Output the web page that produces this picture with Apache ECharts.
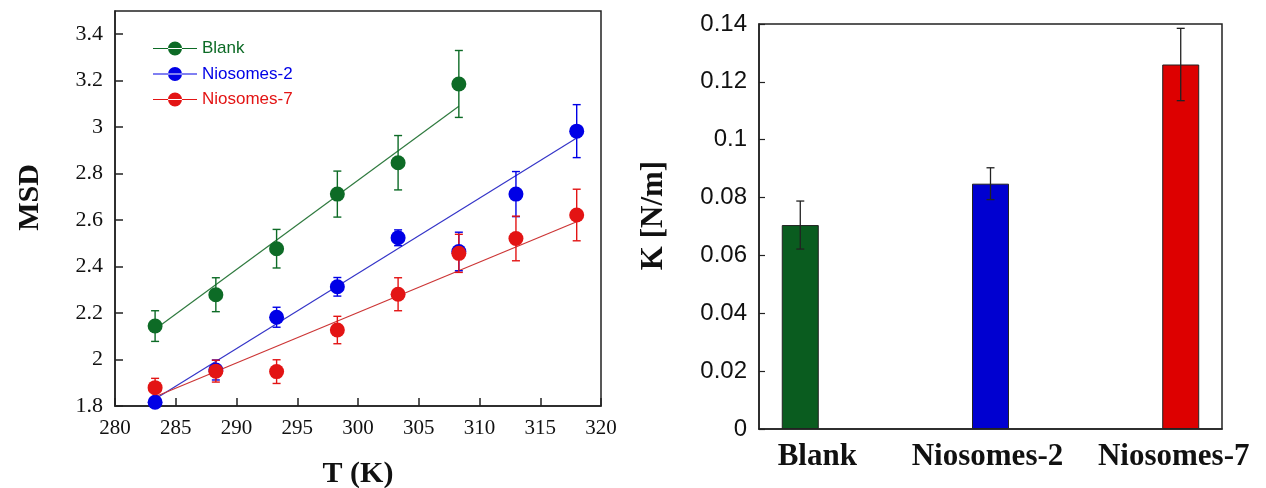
<!DOCTYPE html>
<html>
<head>
<meta charset="utf-8">
<script src="https://cdn.jsdelivr.net/npm/echarts@6/dist/echarts.min.js"></script>
<style>
  html, body { margin: 0; padding: 0; background: #fff; }
  #chart { width: 1266px; height: 488px; }
</style>
</head>
<body>
<div id="chart"></div>
<script>
// left panel: MSD vs T
const tempBlank = [283.3, 288.3, 293.3, 298.3, 303.3, 308.3];
const msdBlank = [2.144, 2.279, 2.477, 2.712, 2.847, 3.186];
const errBlank = [0.066, 0.073, 0.083, 0.099, 0.117, 0.144];

const tempNio = [283.3, 288.3, 293.3, 298.3, 303.3, 308.3, 313.0, 318.0];
const msdNio2 = [1.816, 1.955, 2.182, 2.313, 2.524, 2.465, 2.712, 2.983];
const errNio2 = [0.02, 0.043, 0.043, 0.04, 0.034, 0.083, 0.097, 0.114];
const msdNio7 = [1.879, 1.950, 1.948, 2.127, 2.281, 2.457, 2.521, 2.622];
const errNio7 = [0.04, 0.047, 0.051, 0.059, 0.071, 0.082, 0.096, 0.111];

// linear fits (end points)
const fitBlank = [[283.3, 2.13], [308.3, 3.09]];
const fitNio2 = [[283.3, 1.83], [318.0, 2.953]];
const fitNio7 = [[283.3, 1.84], [318.0, 2.593]];

// right panel: K
const kLabels = ['Blank', 'Niosomes-2', 'Niosomes-7'];
const kValues = [0.0705, 0.0848, 0.126];
const kErr = [0.0083, 0.0055, 0.0125];

const GREEN = '#0d6b26', BLUE = '#0000e6', RED = '#e31414';
const barColors = ['#0a5c1f', '#0000d0', '#dd0000'];
const serif = 'Liberation Serif', sans = 'Liberation Sans';

const pts = (xs, ys) => xs.map((x, i) => [x, ys[i]]);
const errs = (xs, ys, es) => xs.map((x, i) => [x, ys[i] - es[i], ys[i] + es[i]]);

function errorBar(color, cap, width) {
  return function (params, api) {
    const x = api.value(0);
    const top = api.coord([x, api.value(2)]);
    const bot = api.coord([x, api.value(1)]);
    const st = { stroke: color, lineWidth: width };
    return {
      type: 'group',
      children: [
        { type: 'line', shape: { x1: top[0], y1: top[1], x2: bot[0], y2: bot[1] }, style: st },
        { type: 'line', shape: { x1: top[0] - cap, y1: top[1], x2: top[0] + cap, y2: top[1] }, style: st },
        { type: 'line', shape: { x1: bot[0] - cap, y1: bot[1], x2: bot[0] + cap, y2: bot[1] }, style: st }
      ]
    };
  };
}

const legendIcon = 'path://M0 6.45H44V7.55H0Z M15 7A7 7 0 1 0 29 7A7 7 0 1 0 15 7Z';
const axisBlack = { onZero: false, lineStyle: { color: '#222', width: 1.5 } };

const chart = echarts.init(document.getElementById('chart'));

const option = {
  backgroundColor: '#fff',
  animation: false,
  grid: [
    { left: 115, right: 665, top: 11, bottom: 82, show: true, borderColor: '#222', borderWidth: 1.5, outerBoundsMode: 'none' },
    { left: 759, right: 44, top: 24, bottom: 59, show: true, borderColor: '#222', borderWidth: 1.5, outerBoundsMode: 'none' }
  ],
  legend: {
    left: 148, top: 35, orient: 'vertical',
    itemWidth: 44, itemHeight: 14, itemGap: 8.5,
    textStyle: { fontFamily: sans, fontSize: 17 },
    data: [
      { name: 'Blank', icon: legendIcon, textStyle: { color: GREEN } },
      { name: 'Niosomes-2', icon: legendIcon, textStyle: { color: BLUE } },
      { name: 'Niosomes-7', icon: legendIcon, textStyle: { color: RED } }
    ]
  },
  xAxis: [
    {
      gridIndex: 0, type: 'value', min: 280, max: 320, interval: 5,
      name: 'T (K)', nameLocation: 'middle', nameGap: 53,
      nameTextStyle: { fontFamily: serif, fontSize: 30, fontWeight: 'bold', color: '#111' },
      axisLine: axisBlack,
      axisTick: { inside: true, length: 8, lineStyle: { color: '#222', width: 1.5 } },
      axisLabel: { margin: 12, fontFamily: serif, fontSize: 21, color: '#111' },
      splitLine: { show: false }
    },
    {
      gridIndex: 1, type: 'value', min: -0.217, max: 2.217,
      axisLine: axisBlack,
      axisTick: { show: false },
      splitLine: { show: false },
      axisLabel: {
        customValues: [0, 1, 2], margin: 12,
        formatter: v => '{c' + Math.round(v) + '|' + kLabels[Math.round(v)] + '}',
        rich: {
          c0: { fontFamily: serif, fontSize: 31, fontWeight: 'bold', color: '#111', padding: [0, 0, 0, 34] },
          c1: { fontFamily: serif, fontSize: 31, fontWeight: 'bold', color: '#111', padding: [0, 6, 0, 0] },
          c2: { fontFamily: serif, fontSize: 31, fontWeight: 'bold', color: '#111', padding: [0, 14, 0, 0] }
        }
      }
    }
  ],
  yAxis: [
    {
      gridIndex: 0, type: 'value', min: 1.8, max: 3.5, interval: 0.2,
      name: 'MSD', nameLocation: 'middle', nameGap: 70, nameRotate: 90,
      nameTextStyle: { fontFamily: serif, fontSize: 30, fontWeight: 'bold', color: '#111', padding: [0, 0, 0, 22] },
      axisLine: axisBlack,
      axisTick: { inside: true, length: 8, lineStyle: { color: '#222', width: 1.5 } },
      axisLabel: { margin: 12, fontFamily: serif, fontSize: 22, color: '#111', showMaxLabel: false },
      splitLine: { show: false }
    },
    {
      gridIndex: 1, type: 'value', min: 0, max: 0.14, interval: 0.02,
      name: 'K [N/m]', nameLocation: 'middle', nameGap: 90, nameRotate: 90,
      nameTextStyle: { fontFamily: serif, fontSize: 31, fontWeight: 'bold', color: '#111', padding: [0, 0, 0, 22] },
      axisLine: axisBlack,
      axisTick: { inside: true, length: 6, lineStyle: { color: '#222', width: 1.2 } },
      axisLabel: { margin: 12, fontFamily: sans, fontSize: 24, color: '#111' },
      splitLine: { show: false }
    }
  ],
  series: [
    // fit lines
    { type: 'line', xAxisIndex: 0, yAxisIndex: 0, data: fitBlank, showSymbol: false, lineStyle: { color: '#2f7a3f', width: 1.2 }, z: 1 },
    { type: 'line', xAxisIndex: 0, yAxisIndex: 0, data: fitNio2, showSymbol: false, lineStyle: { color: '#3535c8', width: 1.2 }, z: 1 },
    { type: 'line', xAxisIndex: 0, yAxisIndex: 0, data: fitNio7, showSymbol: false, lineStyle: { color: '#cc3535', width: 1.2 }, z: 1 },
    // error bars
    { type: 'custom', xAxisIndex: 0, yAxisIndex: 0, data: errs(tempBlank, msdBlank, errBlank), encode: { x: 0, y: [1, 2] }, renderItem: errorBar(GREEN, 4, 1.4), z: 2 },
    { type: 'custom', xAxisIndex: 0, yAxisIndex: 0, data: errs(tempNio, msdNio2, errNio2), encode: { x: 0, y: [1, 2] }, renderItem: errorBar(BLUE, 4, 1.4), z: 2 },
    { type: 'custom', xAxisIndex: 0, yAxisIndex: 0, data: errs(tempNio, msdNio7, errNio7), encode: { x: 0, y: [1, 2] }, renderItem: errorBar(RED, 4, 1.4), z: 2 },
    // markers
    { name: 'Blank', type: 'scatter', xAxisIndex: 0, yAxisIndex: 0, data: pts(tempBlank, msdBlank), symbolSize: 15, itemStyle: { color: GREEN, opacity: 1 }, z: 3 },
    { name: 'Niosomes-2', type: 'scatter', xAxisIndex: 0, yAxisIndex: 0, data: pts(tempNio, msdNio2), symbolSize: 15, itemStyle: { color: BLUE, opacity: 1 }, z: 3 },
    { name: 'Niosomes-7', type: 'scatter', xAxisIndex: 0, yAxisIndex: 0, data: pts(tempNio, msdNio7), symbolSize: 15, itemStyle: { color: RED, opacity: 1 }, z: 3 },
    // right panel bars
    {
      type: 'bar', xAxisIndex: 1, yAxisIndex: 1, barWidth: 37,
      data: kValues.map((v, i) => ({ value: [i, v], itemStyle: { color: barColors[i], borderColor: '#222', borderWidth: 1 } })),
      z: 2
    },
    {
      type: 'custom', xAxisIndex: 1, yAxisIndex: 1,
      data: kValues.map((v, i) => [i, v - kErr[i], v + kErr[i]]),
      encode: { x: 0, y: [1, 2] }, renderItem: errorBar('#222', 4, 1.3), z: 3
    }
  ]
};

chart.setOption(option);
</script>
</body>
</html>
